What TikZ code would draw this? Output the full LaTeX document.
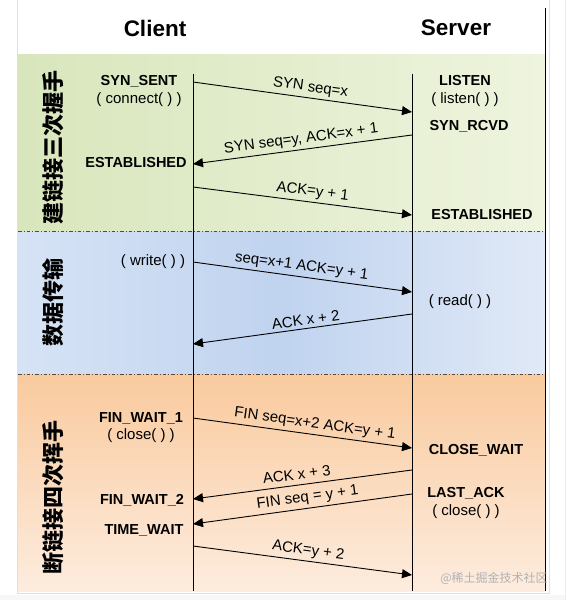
\documentclass[tikz,border=0pt]{standalone}
\usepackage{fontspec}
\setmainfont{Liberation Sans}
\newfontfamily\cjk{Noto Sans CJK SC}
\usetikzlibrary{arrows.meta}

\definecolor{grnL}{RGB}{216,230,188}
\definecolor{grnR}{RGB}{238,244,222}
\definecolor{bluL}{RGB}{214,227,245}
\definecolor{bluM}{RGB}{192,211,239}
\definecolor{bluR}{RGB}{224,233,247}
\definecolor{orgT}{RGB}{249,202,158}
\definecolor{orgB}{RGB}{253,236,222}

\begin{document}
\begin{tikzpicture}[x=1pt,y=-1pt,
  stat/.style={font=\bfseries\fontsize{14.5}{16}\selectfont},
  call/.style={font=\fontsize{15}{17}\selectfont},
  msg/.style={-{Triangle[length=10pt,width=9pt]},line width=0.9pt},
  lbl/.style={sloped,above=2pt,inner sep=1pt,font=\fontsize{15}{17}\selectfont},
  phase/.style={rotate=90,font=\cjk\bfseries\fontsize{22}{22}\selectfont},
  sep/.style={gray!60!black,line width=0.8pt,dash pattern=on 3.5pt off 2pt on 1pt off 2pt}]
  \useasboundingbox (0,0) rectangle (566,600);
  \def\cx{193}   % Client 时间线
  \def\sx{412}   % Server 时间线
  \def\L{18}
  \def\R{545}
  % 背景
  \fill[white] (0,0) rectangle (566,600);
  \fill[gray!6] (0,595) rectangle (566,600);
  \shade[left color=grnL,right color=grnR] (\L,54) rectangle (\R,231);
  \shade[left color=bluL,right color=bluR,middle color=bluM] (\L,231) rectangle (\R,374);
  \shade[top color=orgT,bottom color=orgB] (\L,374) rectangle (\R,591);
  \draw[gray!25] (17,0) -- (17,593) -- (549,593) -- (549,0);
  \draw[gray!15] (565,0) -- (565,600);
  \draw[line width=0.9pt] (\R,8) -- (\R,591);
  \draw[sep] (\L,231) -- (\R,231);
  \draw[sep] (\L,374) -- (\R,374);
  % 标题
  \node[font=\bfseries\fontsize{22.5}{24}\selectfont] (client) at (155,28) {Client};
  \node[font=\bfseries\fontsize{22.5}{24}\selectfont] (server) at (456,28) {Server};
  \node[phase] (hs3) at (53,147) {建链接三次握手};
  \node[phase] (data) at (53,302) {数据传输};
  \node[phase] (hs4) at (53,497) {断链接四次挥手};
  % 时间线
  \coordinate (ctop) at (\cx,74);
  \coordinate (cbot) at (\cx,591);
  \coordinate (stop) at (\sx,74);
  \coordinate (sbot) at (\sx,591);
  \draw[line width=0.9pt] (ctop) -- (cbot);
  \draw[line width=0.9pt] (stop) -- (sbot);
  % 状态
  \node[stat] (synsent) at (139,81) {SYN\_SENT};
  \node[call] (connect) at (139,100) {( connect( ) )};
  \node[stat] (listen) at (465,81) {LISTEN};
  \node[call] (listencall) at (465,100) {( listen( ) )};
  \node[stat] (synrcvd) at (469,126) {SYN\_RCVD};
  \node[stat] (estc) at (136,163) {ESTABLISHED};
  \node[stat] (ests) at (482,215) {ESTABLISHED};
  \node[call] (write) at (153,262) {( write( ) )};
  \node[call] (read) at (460,302) {( read( ) )};
  \node[stat] (finwait1) at (141,418) {FIN\_WAIT\_1};
  \node[call] (closec) at (141,436) {( close( ) )};
  \node[stat] (closewait) at (476,450) {CLOSE\_WAIT};
  \node[stat] (finwait2) at (142,500) {FIN\_WAIT\_2};
  \node[stat] (lastack) at (466,493) {LAST\_ACK};
  \node[call] (closes) at (466,512) {( close( ) )};
  \node[stat] (timewait) at (144,530) {TIME\_WAIT};
  % 报文端点
  \coordinate (c1) at (\cx,82);  \coordinate (s1) at (\sx,112);
  \coordinate (s2) at (\sx,135); \coordinate (c2) at (\cx,164);
  \coordinate (c3) at (\cx,187); \coordinate (s3) at (\sx,215);
  \coordinate (c4) at (\cx,262); \coordinate (s4) at (\sx,292);
  \coordinate (s5) at (\sx,314); \coordinate (c5) at (\cx,344);
  \coordinate (c6) at (\cx,418); \coordinate (s6) at (\sx,448);
  \coordinate (s7) at (\sx,470); \coordinate (c7) at (\cx,499);
  \coordinate (s8) at (\sx,494); \coordinate (c8) at (\cx,524);
  \coordinate (c9) at (\cx,546); \coordinate (s9) at (\sx,575);
  % 三次握手
  \draw[msg] (c1) -- node[lbl,pos=0.53] (m1) {SYN seq=x} (s1);
  \draw[msg] (s2) -- node[lbl,pos=0.5] (m2) {SYN seq=y, ACK=x + 1} (c2);
  \draw[msg] (c3) -- node[lbl,pos=0.54] (m3) {ACK=y + 1} (s3);
  % 数据传输
  \draw[msg] (c4) -- node[lbl,pos=0.49] (m4) {seq=x+1 ACK=y + 1} (s4);
  \draw[msg] (s5) -- node[lbl,pos=0.48] (m5) {ACK x + 2} (c5);
  % 四次挥手
  \draw[msg] (c6) -- node[lbl,pos=0.55] (m6) {FIN seq=x+2 ACK=y + 1} (s6);
  \draw[msg] (s7) -- node[lbl,pos=0.52,above=2pt] (m7) {ACK x + 3} (c7);
  \draw[msg] (s8) -- node[lbl,pos=0.47,above=0pt] (m8) {FIN seq = y + 1} (c8);
  \draw[msg] (c9) -- node[lbl,pos=0.52] (m9) {ACK=y + 2} (s9);
  \node[font=\cjk\fontsize{12}{12}\selectfont,text=gray!60] (mark) at (494,578) {@稀土掘金技术社区};
\end{tikzpicture}
\end{document}
